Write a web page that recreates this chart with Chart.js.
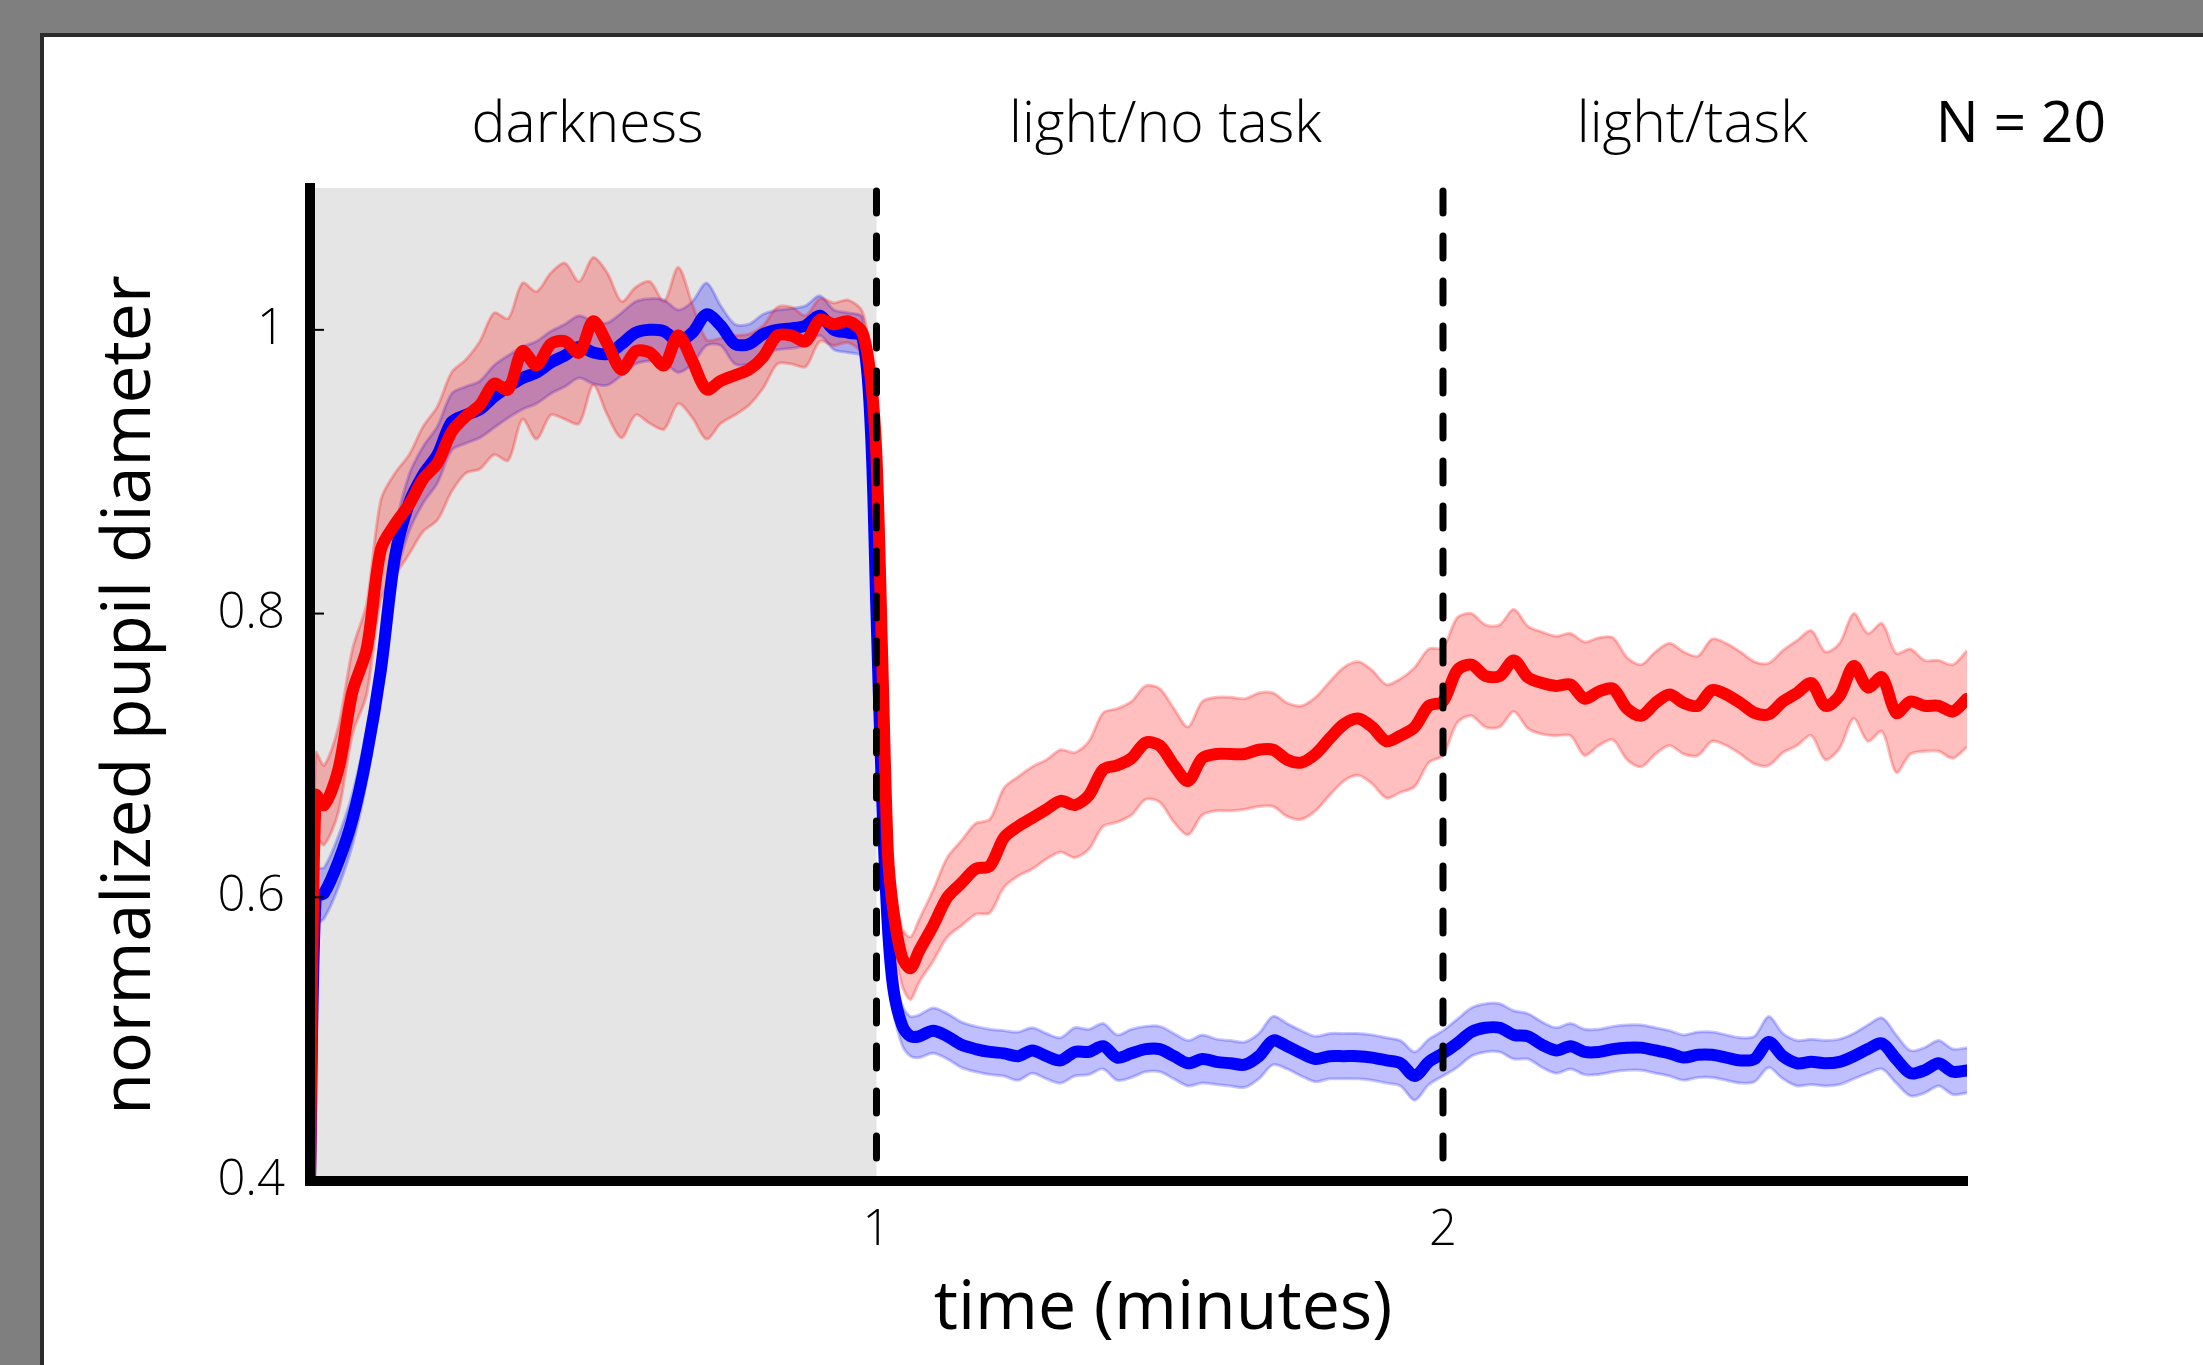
<!DOCTYPE html>
<html>
<head>
<meta charset="utf-8">
<script src="https://cdn.jsdelivr.net/npm/chart.js@4.4.1/dist/chart.umd.min.js"></script>
<style>
html,body{margin:0;padding:0;background:#7f7f7f;width:2203px;height:1365px;overflow:hidden;}
#panel{position:absolute;left:40px;top:33px;width:2163px;height:1332px;background:#fff;border-top:4px solid #2b2b2b;border-left:4px solid #2b2b2b;box-sizing:border-box;}
#c{position:absolute;left:0;top:0;}
</style>
</head>
<body>
<div id="panel"></div>
<canvas id="c" width="2203" height="1365"></canvas>
<script>
// time in minutes
const times = [0, 0.01, 0.025, 0.05, 0.075, 0.1, 0.125, 0.15, 0.175, 0.2, 0.225, 0.25, 0.275, 0.3, 0.325, 0.35, 0.375, 0.4, 0.425, 0.45, 0.475, 0.5, 0.525, 0.55, 0.575, 0.6, 0.625, 0.65, 0.675, 0.7, 0.725, 0.75, 0.775, 0.8, 0.825, 0.85, 0.875, 0.9, 0.925, 0.95, 0.975, 0.99, 1.0, 1.01, 1.02, 1.03, 1.045, 1.06, 1.075, 1.1, 1.125, 1.15, 1.175, 1.2, 1.225, 1.25, 1.275, 1.3, 1.325, 1.35, 1.375, 1.4, 1.425, 1.45, 1.475, 1.5, 1.525, 1.55, 1.575, 1.6, 1.625, 1.65, 1.675, 1.7, 1.725, 1.75, 1.775, 1.8, 1.825, 1.85, 1.875, 1.9, 1.925, 1.95, 1.975, 2.0, 2.025, 2.05, 2.075, 2.1, 2.125, 2.15, 2.175, 2.2, 2.225, 2.25, 2.275, 2.3, 2.325, 2.35, 2.375, 2.4, 2.425, 2.45, 2.475, 2.5, 2.525, 2.55, 2.575, 2.6, 2.625, 2.65, 2.675, 2.7, 2.725, 2.75, 2.775, 2.8, 2.825, 2.85, 2.875, 2.9, 2.925];

const redMean = [0.40, 0.672, 0.665, 0.69, 0.745, 0.775, 0.845, 0.863, 0.877, 0.895, 0.906, 0.928, 0.939, 0.947, 0.962, 0.958, 0.985, 0.975, 0.99, 0.992, 0.984, 1.006, 0.99, 0.972, 0.985, 0.984, 0.975, 0.996, 0.978, 0.958, 0.964, 0.968, 0.972, 0.981, 0.996, 0.996, 0.992, 1.007, 1.004, 1.006, 0.998, 0.965, 0.91, 0.77, 0.632, 0.59, 0.558, 0.55, 0.562, 0.58, 0.6, 0.61, 0.62, 0.622, 0.642, 0.65, 0.656, 0.662, 0.668, 0.665, 0.672, 0.69, 0.693, 0.698, 0.709, 0.707, 0.693, 0.682, 0.698, 0.701, 0.701, 0.701, 0.704, 0.704, 0.697, 0.695, 0.701, 0.712, 0.722, 0.726, 0.72, 0.71, 0.714, 0.72, 0.735, 0.738, 0.76, 0.764, 0.756, 0.756, 0.767, 0.755, 0.751, 0.749, 0.75, 0.74, 0.745, 0.747, 0.733, 0.728, 0.737, 0.743, 0.737, 0.735, 0.746, 0.743, 0.737, 0.73, 0.729, 0.738, 0.744, 0.751, 0.735, 0.742, 0.763, 0.748, 0.755, 0.73, 0.738, 0.735, 0.735, 0.731, 0.74];

const redErr = [0.0, 0.03, 0.028, 0.03, 0.03, 0.032, 0.035, 0.036, 0.035, 0.037, 0.04, 0.042, 0.04, 0.045, 0.05, 0.05, 0.048, 0.052, 0.05, 0.055, 0.05, 0.045, 0.05, 0.048, 0.045, 0.05, 0.045, 0.048, 0.04, 0.035, 0.03, 0.028, 0.025, 0.022, 0.02, 0.02, 0.018, 0.015, 0.015, 0.015, 0.015, 0.015, 0.015, 0.018, 0.02, 0.02, 0.02, 0.022, 0.022, 0.025, 0.028, 0.03, 0.032, 0.033, 0.035, 0.035, 0.036, 0.035, 0.036, 0.037, 0.038, 0.04, 0.04, 0.04, 0.04, 0.04, 0.04, 0.038, 0.04, 0.04, 0.04, 0.039, 0.04, 0.04, 0.04, 0.04, 0.04, 0.04, 0.04, 0.04, 0.04, 0.04, 0.04, 0.042, 0.04, 0.038, 0.037, 0.036, 0.036, 0.036, 0.036, 0.036, 0.036, 0.035, 0.036, 0.04, 0.038, 0.036, 0.036, 0.036, 0.036, 0.036, 0.036, 0.035, 0.036, 0.036, 0.036, 0.036, 0.036, 0.036, 0.037, 0.037, 0.038, 0.037, 0.037, 0.038, 0.038, 0.042, 0.037, 0.032, 0.032, 0.033, 0.034];

const blueMean = [0.40, 0.60, 0.603, 0.625, 0.655, 0.70, 0.76, 0.84, 0.878, 0.898, 0.912, 0.935, 0.94, 0.944, 0.953, 0.96, 0.966, 0.97, 0.977, 0.982, 0.988, 0.984, 0.983, 0.99, 0.998, 1.0, 0.999, 0.992, 0.998, 1.011, 1.003, 0.99, 0.99, 0.997, 1.0, 1.001, 1.003, 1.01, 1.0, 0.998, 0.995, 0.93, 0.80, 0.67, 0.58, 0.535, 0.51, 0.502, 0.502, 0.506, 0.502, 0.496, 0.493, 0.491, 0.49, 0.488, 0.492, 0.488, 0.485, 0.491, 0.491, 0.495, 0.487, 0.49, 0.493, 0.493, 0.488, 0.483, 0.486, 0.484, 0.483, 0.482, 0.488, 0.499, 0.495, 0.49, 0.486, 0.488, 0.488, 0.488, 0.487, 0.485, 0.483, 0.474, 0.484, 0.49, 0.497, 0.505, 0.508, 0.508, 0.503, 0.502, 0.496, 0.492, 0.495, 0.491, 0.491, 0.493, 0.494, 0.494, 0.492, 0.49, 0.487, 0.489, 0.489, 0.487, 0.485, 0.486, 0.498, 0.488, 0.483, 0.484, 0.483, 0.484, 0.488, 0.493, 0.497, 0.486, 0.476, 0.478, 0.483, 0.477, 0.478];

const blueErr = [0.0, 0.02, 0.018, 0.018, 0.018, 0.018, 0.018, 0.018, 0.02, 0.02, 0.02, 0.02, 0.02, 0.02, 0.022, 0.022, 0.022, 0.022, 0.022, 0.022, 0.022, 0.022, 0.022, 0.022, 0.022, 0.022, 0.022, 0.022, 0.022, 0.022, 0.014, 0.014, 0.014, 0.014, 0.014, 0.014, 0.014, 0.014, 0.014, 0.014, 0.014, 0.014, 0.014, 0.014, 0.014, 0.014, 0.014, 0.014, 0.015, 0.016, 0.016, 0.016, 0.016, 0.016, 0.016, 0.017, 0.016, 0.016, 0.016, 0.017, 0.016, 0.016, 0.016, 0.017, 0.016, 0.016, 0.016, 0.016, 0.017, 0.016, 0.016, 0.016, 0.016, 0.017, 0.016, 0.016, 0.016, 0.016, 0.016, 0.016, 0.016, 0.016, 0.016, 0.017, 0.016, 0.016, 0.017, 0.017, 0.017, 0.017, 0.017, 0.016, 0.016, 0.016, 0.016, 0.016, 0.016, 0.016, 0.016, 0.016, 0.016, 0.016, 0.016, 0.016, 0.016, 0.016, 0.016, 0.016, 0.018, 0.016, 0.016, 0.016, 0.016, 0.016, 0.016, 0.017, 0.018, 0.017, 0.016, 0.016, 0.016, 0.016, 0.016];

const xTickValues = [1, 2];
const xTickLabels = ['1', '2'];
const yTickValues = [0.4, 0.6, 0.8, 1.0];
const yTickLabels = ['0.4', '0.6', '0.8', '1'];
const phaseLabels = ['darkness', 'light/no task', 'light/task'];
const phaseCenters = [0.49, 1.51, 2.44];
const phaseBounds = [1, 2];
const nLabel = 'N = 20';
const xTitle = 'time (minutes)';
const yTitle = 'normalized pupil diameter';

const FONT = "'Open Sans', 'Noto Sans', 'DejaVu Sans', sans-serif";

const line = (mean) => times.map((t, i) => ({x: t, y: mean[i]}));
const band = (mean, err, s) => times.map((t, i) => ({x: t, y: mean[i] + s * err[i]}));

const shadePlugin = {
  id: 'shade',
  beforeDatasetsDraw(chart) {
    const {ctx, chartArea, scales: {x}} = chart;
    const x0 = x.getPixelForValue(0), x1 = x.getPixelForValue(phaseBounds[0]);
    ctx.save();
    ctx.fillStyle = '#e5e5e5';
    ctx.fillRect(x0, chartArea.top, x1 - x0, chartArea.bottom - chartArea.top);
    ctx.restore();
  }
};

const overlayPlugin = {
  id: 'overlay',
  afterDatasetsDraw(chart) {
    const {ctx, chartArea, scales: {x, y}} = chart;
    ctx.save();
    // dashed phase boundaries
    ctx.strokeStyle = '#000';
    ctx.lineWidth = 7;
    ctx.lineCap = 'round';
    ctx.setLineDash([22, 23]);
    phaseBounds.forEach(b => {
      const px = x.getPixelForValue(b);
      ctx.beginPath();
      ctx.moveTo(px, chartArea.top + 3);
      ctx.lineTo(px, chartArea.bottom);
      ctx.stroke();
    });
    ctx.setLineDash([]);
    // inner y tick marks
    ctx.lineCap = 'butt';
    ctx.lineWidth = 2;
    yTickValues.forEach(v => {
      const py = y.getPixelForValue(v);
      ctx.beginPath();
      ctx.moveTo(chartArea.left, py);
      ctx.lineTo(chartArea.left + 14, py);
      ctx.stroke();
    });
    // phase labels
    ctx.fillStyle = '#000';
    ctx.textAlign = 'center';
    ctx.textBaseline = 'alphabetic';
    ctx.font = "300 57px " + FONT;
    phaseLabels.forEach((lab, i) => {
      ctx.fillText(lab, x.getPixelForValue(phaseCenters[i]), 142);
    });
    ctx.font = "400 57px " + FONT;
    ctx.fillText(nLabel, x.getPixelForValue(3.02), 142);
    // axis titles
    ctx.font = "400 68px " + FONT;
    ctx.textBaseline = 'middle';
    ctx.fillText(xTitle, 1163, 1310);
    ctx.translate(131, 695);
    ctx.rotate(-Math.PI / 2);
    ctx.fillText(yTitle, 0, 0);
    ctx.restore();
  }
};

new Chart(document.getElementById('c').getContext('2d'), {
  type: 'line',
  data: {
    datasets: [
      {label: 'red', data: line(redMean), borderColor: '#ff0000', borderWidth: 12, fill: false, borderCapStyle: 'round', borderJoinStyle: 'round'},
      {label: 'blue', data: line(blueMean), borderColor: '#0000ff', borderWidth: 12, fill: false, borderCapStyle: 'round', borderJoinStyle: 'round'},
      {label: 'red upper', data: band(redMean, redErr, 1), borderColor: 'rgba(255,0,0,0.25)', borderWidth: 3, fill: '+1', backgroundColor: 'rgba(255,0,0,0.25)'},
      {label: 'red lower', data: band(redMean, redErr, -1), borderColor: 'rgba(255,0,0,0.25)', borderWidth: 3, fill: false},
      {label: 'blue upper', data: band(blueMean, blueErr, 1), borderColor: 'rgba(0,0,255,0.22)', borderWidth: 3, fill: '+1', backgroundColor: 'rgba(0,0,255,0.25)'},
      {label: 'blue lower', data: band(blueMean, blueErr, -1), borderColor: 'rgba(0,0,255,0.22)', borderWidth: 3, fill: false}
    ]
  },
  options: {
    responsive: false,
    animation: false,
    devicePixelRatio: 1,
    layout: {padding: {left: 0, top: 188, right: 236, bottom: 0}},
    plugins: {legend: {display: false}, tooltip: {enabled: false}},
    elements: {point: {radius: 0}, line: {tension: 0.3}},
    scales: {
      x: {
        type: 'linear', min: 0, max: 2.925, offset: false,
        afterBuildTicks: s => { s.ticks = xTickValues.map(v => ({value: v})); },
        afterFit: s => { s.height = 184; },
        grid: {display: false, drawTicks: false},
        border: {display: true, color: '#000', width: 10, z: 1},
        ticks: {color: '#000', font: {family: FONT, size: 49, weight: '300'}, padding: 21, autoSkip: false, maxRotation: 0,
          callback: (v, i) => xTickLabels[i]},
        title: {display: false}
      },
      y: {
        type: 'linear', min: 0.4, max: 1.1,
        afterBuildTicks: s => { s.ticks = yTickValues.map(v => ({value: v})); },
        afterFit: s => { s.width = 310; },
        grid: {display: false, drawTicks: false},
        border: {display: true, color: '#000', width: 10, z: 1},
        ticks: {color: '#000', font: {family: FONT, size: 49, weight: '300'}, padding: 25, autoSkip: false,
          callback: (v, i) => yTickLabels[i]},
        title: {display: false}
      }
    }
  },
  plugins: [shadePlugin, overlayPlugin]
});
</script>
</body>
</html>
